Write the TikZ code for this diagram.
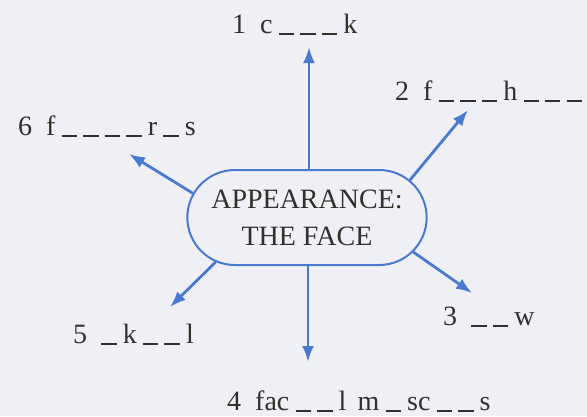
\documentclass[tikz,border=0pt]{standalone}
\usepackage{fontspec}
\setmainfont{Liberation Serif}
\usetikzlibrary{arrows.meta,shapes.misc}

\definecolor{pagebg}{HTML}{EEF0F6}
\definecolor{inkblue}{HTML}{4A7AD0}
\definecolor{printink}{HTML}{352F2B}

% one gap of a word
\newcommand{\bl}{\rule[-0.06em]{0.55em}{0.06em}}
\newcommand{\gp}{\hspace{0.22em}}

\tikzset{
  topic/.style={shape=rounded rectangle, draw=inkblue, line width=2pt,
    minimum width=246pt, minimum height=95pt, align=center,
    font=\fontsize{28}{37}\selectfont, text=printink},
  clue/.style={anchor=base west, inner sep=0pt, text=printink,
    font=\fontsize{28}{32}\selectfont},
  spoke/.style={draw=inkblue, line width=2.8pt,
    -{Latex[length=16pt,width=12pt]}}
}

\begin{document}
\begin{tikzpicture}[x=1pt,y=-1pt]
  % Page
  \fill[pagebg] (0,0) rectangle (587,416);
  \useasboundingbox (0,0) rectangle (587,416);
  \clip (0,0) rectangle (587,416);

  % Central box
  \node[topic] (face) at (307,217.5) {APPEARANCE:\\THE FACE};

  % Words to complete
  \node[clue] (w1) at (232,33) {1\hspace{0.5em}c\gp\bl\gp\bl\gp\bl\gp k};
  \node[clue] (w2) at (395,100) {2\hspace{0.5em}f\gp\bl\gp\bl\gp\bl\gp h\gp\bl\gp\bl\gp\bl};
  \node[clue] (w3) at (443,325) {3\hspace{0.5em}\bl\gp\bl\gp w};
  \node[clue] (w4) at (227,410) {4\hspace{0.5em}fac\gp\bl\gp\bl\gp l\hspace{0.4em}m\gp\bl\gp sc\gp\bl\gp\bl\gp s};
  \node[clue] (w5) at (73,343) {5\hspace{0.5em}\bl\gp k\gp\bl\gp\bl\gp l};
  \node[clue] (w6) at (18,135) {6\hspace{0.5em}f\gp\bl\gp\bl\gp\bl\gp\bl\gp r\gp\bl\gp s};

  % Arrow tips
  \coordinate (t1) at (309,47);
  \coordinate (t2) at (468,110);
  \coordinate (t3) at (472,293);
  \coordinate (t4) at (308,362);
  \coordinate (t5) at (170,307);
  \coordinate (t6) at (129,154);

  % Spokes
  \draw[spoke] (face.north -| t1) -- (t1);
  \draw[spoke] (face.20) -- (t2);
  \draw[spoke] (face.-18) -- (t3);
  \draw[spoke] (face.south -| t4) -- (t4);
  \draw[spoke] (face.206) -- (t5);
  \draw[spoke] (face.168) -- (t6);
\end{tikzpicture}
\end{document}
